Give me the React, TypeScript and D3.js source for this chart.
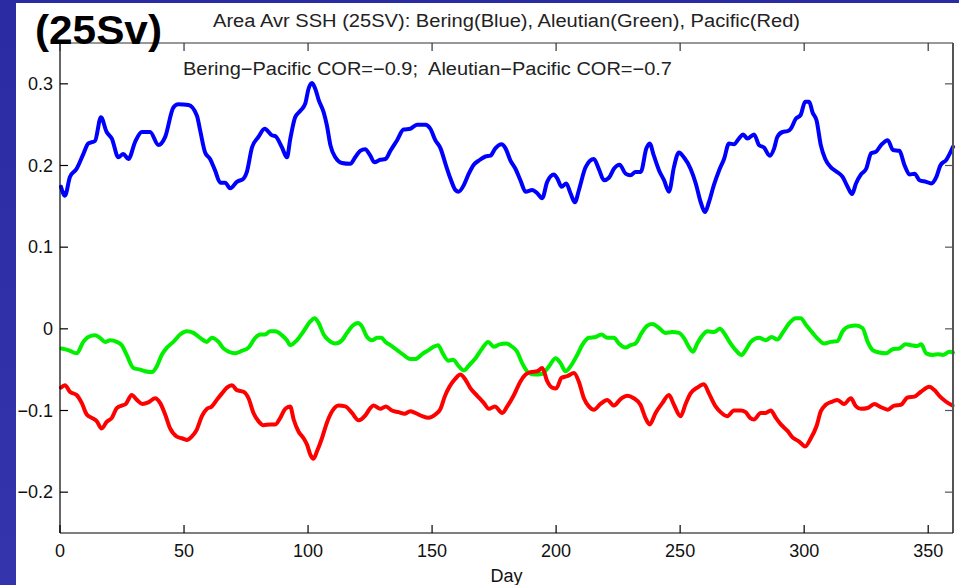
import React, { useRef, useEffect } from "react";
import * as d3 from "d3";

// Day / value pairs
const bering: [number, number][] = [
  [0.4, 0.174], [2, 0.163], [4, 0.186], [6.7, 0.196], [9.4, 0.214], [11.4, 0.227], [14.1, 0.23], [16.5, 0.259],
  [18.8, 0.241], [20.9, 0.233], [23.5, 0.21], [25.5, 0.214], [27.6, 0.208], [30.3, 0.229], [33, 0.241], [36.3, 0.241],
  [39.7, 0.225], [42.4, 0.235], [45.7, 0.271], [47.7, 0.275], [51.8, 0.274], [55.2, 0.261], [56.5, 0.243], [58.5, 0.216],
  [60.5, 0.208], [62.5, 0.194], [64.6, 0.179], [66.6, 0.179], [68.6, 0.172], [71.3, 0.18], [74, 0.184], [75.3, 0.192],
  [77.4, 0.222], [80, 0.235], [82.5, 0.245], [85.4, 0.237], [86.8, 0.236], [89.5, 0.222], [91.5, 0.21], [92.8, 0.232],
  [94.8, 0.259], [96.9, 0.267], [98.9, 0.276], [100.2, 0.294], [101.6, 0.301], [102.9, 0.294], [104.3, 0.28], [106.3, 0.265],
  [107.6, 0.249], [109, 0.225], [111, 0.21], [113.7, 0.203], [117, 0.202], [119, 0.21], [121, 0.218], [123, 0.22],
  [125.1, 0.212], [126.7, 0.204], [129.1, 0.207], [131.2, 0.208], [133.2, 0.218], [135.9, 0.231], [138.5, 0.244], [141.2, 0.245],
  [143.9, 0.25], [147.3, 0.25], [149.3, 0.245], [151.3, 0.231], [153.4, 0.221], [155.4, 0.202], [157.4, 0.184], [159.4, 0.17],
  [160.7, 0.168], [162.8, 0.176], [164.8, 0.19], [166.8, 0.201], [168.8, 0.206], [171.5, 0.211], [173.5, 0.212], [175.5, 0.221],
  [178, 0.226], [179.6, 0.221], [181.6, 0.206], [183.6, 0.196], [185.6, 0.182], [187.7, 0.168], [190.4, 0.17], [192.4, 0.166],
  [194.4, 0.16], [196.4, 0.18], [199.1, 0.189], [200.5, 0.184], [202.2, 0.174], [204.1, 0.178], [205.8, 0.166], [207.6, 0.155],
  [209.2, 0.17], [211.9, 0.198], [215.2, 0.208], [217.2, 0.196], [219.3, 0.182], [221.3, 0.185], [223.3, 0.196], [225.6, 0.201],
  [228, 0.19], [230, 0.188], [232, 0.192], [234.1, 0.192], [236.4, 0.221], [237.7, 0.227], [239.4, 0.212], [241.5, 0.194],
  [243.5, 0.182], [245.5, 0.168], [247.5, 0.198], [249.5, 0.216], [251.5, 0.21], [254.2, 0.196], [256.3, 0.178], [258.3, 0.155],
  [260, 0.143], [261.6, 0.155], [263.6, 0.176], [265.7, 0.194], [267.7, 0.208], [269.7, 0.227], [271.7, 0.226], [273.7, 0.233],
  [275.4, 0.238], [277.1, 0.233], [279.8, 0.238], [281.8, 0.225], [283.8, 0.222], [286.1, 0.212], [287.9, 0.221], [289.2, 0.235],
  [291.3, 0.241], [293.3, 0.242], [294.6, 0.245], [296.6, 0.257], [298.6, 0.262], [300.4, 0.278], [302, 0.278], [303.4, 0.265],
  [305, 0.255], [306.7, 0.225], [308.5, 0.208], [310.7, 0.198], [312.8, 0.193], [315.5, 0.186], [317.5, 0.174], [319.3, 0.165],
  [320.9, 0.178], [322.9, 0.189], [325, 0.196], [327, 0.215], [329, 0.217], [331, 0.225], [333.7, 0.231], [335.8, 0.219],
  [338.4, 0.218], [340.5, 0.2], [342.5, 0.189], [344.5, 0.19], [346.5, 0.182], [349.2, 0.18], [351.2, 0.178], [353.3, 0.186],
  [354.9, 0.2], [357.3, 0.207], [360, 0.223],
];

const aleutian: [number, number][] = [
  [0.7, -0.024], [3.3, -0.026], [6.7, -0.03], [9.4, -0.016], [11.4, -0.01], [14.1, -0.008], [16.1, -0.011], [18.2, -0.016],
  [20.2, -0.014], [22.9, -0.016], [24.9, -0.02], [26.9, -0.032], [29.6, -0.048], [32.3, -0.05], [34.3, -0.052], [37, -0.053],
  [39, -0.046], [41, -0.032], [43.1, -0.023], [45.7, -0.016], [48.4, -0.007], [51.1, -0.003], [53.8, -0.005], [56.5, -0.011],
  [59.2, -0.016], [61.2, -0.011], [63.9, -0.016], [65.9, -0.024], [68, -0.028], [70.6, -0.03], [73.3, -0.027], [76, -0.023],
  [78.7, -0.011], [80.7, -0.007], [82.7, -0.007], [84.7, -0.003], [86.8, -0.003], [89.5, -0.008], [91.5, -0.014], [92.8, -0.02],
  [95.5, -0.014], [98.2, -0.003], [100.9, 0.009], [102.6, 0.013], [104.3, 0.007], [106.3, -0.007], [108.3, -0.014], [111, -0.018],
  [113.7, -0.014], [115.7, -0.005], [117.7, 0.003], [120.1, 0.007], [121.7, 0.003], [123.8, -0.01], [125.8, -0.014], [127.8, -0.011],
  [129.6, -0.011], [131.2, -0.016], [133.2, -0.02], [135.9, -0.026], [138.5, -0.032], [141.2, -0.037], [143.2, -0.037], [146, -0.031],
  [148.6, -0.026], [150.6, -0.022], [152.4, -0.02], [154.3, -0.03], [156.5, -0.039], [158.5, -0.038], [160.8, -0.046], [162.8, -0.051],
  [164.8, -0.045], [167.5, -0.036], [170.2, -0.024], [172.6, -0.016], [174.9, -0.022], [177.2, -0.019], [179.9, -0.018], [182.3, -0.022],
  [184.3, -0.028], [186.3, -0.042], [189, -0.054], [191.7, -0.056], [194.4, -0.055], [197.1, -0.046], [199.8, -0.036], [201.8, -0.042],
  [203.8, -0.052], [205.8, -0.046], [208.5, -0.032], [210.5, -0.02], [213.2, -0.011], [215.9, -0.01], [218.3, -0.007], [220.6, -0.011],
  [223.3, -0.011], [225.3, -0.018], [228, -0.023], [230, -0.02], [232, -0.018], [234.5, -0.005], [236.8, 0.004], [238.8, 0.006],
  [241.5, 0.001], [244.1, -0.005], [246.8, -0.004], [249.5, -0.005], [251.5, -0.011], [253.5, -0.022], [255.2, -0.028], [256.9, -0.018],
  [259, -0.008], [261, -0.003], [263.7, -0.004], [266, 0], [267.7, -0.005], [269.7, -0.015], [272.4, -0.026], [274.8, -0.032],
  [276.4, -0.026], [278.5, -0.016], [281.8, -0.011], [284.5, -0.014], [286.9, -0.01], [289.2, -0.013], [291.3, -0.005], [294, 0.007],
  [296.6, 0.013], [298.6, 0.013], [300.7, 0.005], [303.4, -0.005], [306.1, -0.014], [308.1, -0.018], [310.7, -0.016], [313.4, -0.015],
  [315.5, -0.003], [318.1, 0.003], [320.9, 0.004], [323.5, 0.001], [325.6, -0.016], [327.6, -0.026], [330.3, -0.029], [333, -0.03],
  [335.7, -0.025], [338.4, -0.024], [340.8, -0.019], [343.1, -0.02], [345.4, -0.021], [347.2, -0.019], [349.2, -0.03], [351.9, -0.032],
  [353.9, -0.031], [355.9, -0.032], [358.6, -0.028], [360, -0.029],
];

const pacific: [number, number][] = [
  [0.4, -0.072], [2, -0.069], [4, -0.077], [6.7, -0.081], [8.8, -0.091], [10.8, -0.105], [12.8, -0.109], [14.8, -0.113],
  [16.8, -0.122], [18.8, -0.114], [20.9, -0.109], [22.9, -0.097], [24.9, -0.094], [26.5, -0.092], [28.9, -0.081], [31, -0.087],
  [33.2, -0.092], [35.6, -0.09], [38.3, -0.085], [40.4, -0.091], [42.4, -0.105], [44.4, -0.122], [47.1, -0.132], [49.1, -0.134],
  [51.1, -0.136], [53.1, -0.132], [55.2, -0.123], [57.2, -0.107], [59.2, -0.098], [61.2, -0.095], [63.2, -0.087], [65.3, -0.079],
  [67.3, -0.072], [69.3, -0.069], [71.3, -0.075], [74, -0.077], [76, -0.085], [78, -0.103], [80, -0.113], [82, -0.118],
  [84.7, -0.117], [86.8, -0.117], [88.8, -0.109], [90.8, -0.098], [92.8, -0.095], [94.2, -0.111], [96.2, -0.126], [98.2, -0.134],
  [99.6, -0.142], [100.9, -0.154], [102.2, -0.159], [103.6, -0.15], [105.6, -0.134], [107.6, -0.115], [109.7, -0.101], [112.3, -0.094],
  [115, -0.095], [117.7, -0.103], [120.4, -0.112], [123.1, -0.106], [125.1, -0.097], [126.4, -0.094], [129.1, -0.098], [131.4, -0.095],
  [133.8, -0.1], [136.5, -0.102], [138.9, -0.104], [141.2, -0.101], [143.2, -0.103], [146, -0.107], [148.6, -0.109], [151.3, -0.105],
  [153.4, -0.098], [155.1, -0.083], [157, -0.071], [159.4, -0.061], [161.4, -0.056], [163.4, -0.062], [165.5, -0.073], [168.2, -0.082],
  [170.9, -0.091], [172.9, -0.098], [175.3, -0.095], [178.3, -0.103], [180.3, -0.095], [183, -0.081], [185.5, -0.065], [187.7, -0.056],
  [189.7, -0.053], [192.4, -0.052], [194.4, -0.048], [196.4, -0.064], [198.4, -0.072], [200, -0.073], [202.2, -0.06], [204.5, -0.058],
  [207.2, -0.054], [209.2, -0.065], [211.2, -0.085], [213.2, -0.095], [215.2, -0.099], [217.9, -0.092], [220.6, -0.087], [223.3, -0.094],
  [226, -0.086], [228.7, -0.082], [231.3, -0.085], [234, -0.093], [236, -0.109], [237.7, -0.117], [240.1, -0.103], [242.8, -0.091],
  [245.5, -0.081], [247.5, -0.093], [250.2, -0.107], [252.2, -0.092], [254.2, -0.079], [256.9, -0.072], [259.6, -0.068], [261.6, -0.079],
  [264.3, -0.095], [266.3, -0.102], [269, -0.107], [271.7, -0.1], [274.4, -0.1], [276.4, -0.102], [278.2, -0.109], [279.8, -0.111],
  [282.5, -0.103], [284.5, -0.103], [286.5, -0.1], [288.6, -0.109], [290.6, -0.117], [293.3, -0.125], [295.3, -0.133], [298, -0.138],
  [300.4, -0.144], [302.7, -0.134], [305, -0.119], [306.7, -0.101], [308.7, -0.093], [311.4, -0.089], [313.4, -0.087], [316.1, -0.092],
  [318.8, -0.085], [320.9, -0.095], [322.9, -0.098], [325.6, -0.097], [328.3, -0.092], [331, -0.096], [333.7, -0.099], [336.3, -0.094],
  [339, -0.093], [341.7, -0.084], [344.4, -0.083], [347.1, -0.077], [350.4, -0.071], [352.5, -0.075], [354.5, -0.082], [357.1, -0.089],
  [359.8, -0.094],
];

const xTicks = [0, 50, 100, 150, 200, 250, 300, 350];
const yTicks = [-0.2, -0.1, 0, 0.1, 0.2, 0.3];

const title = "Area Avr SSH (25SV): Bering(Blue), Aleutian(Green), Pacific(Red)";
const corText = "Bering\u2212Pacific COR=\u22120.9;\u00a0 Aleutian\u2212Pacific COR=\u22120.7";
const panelLabel = "(25Sv)";

const W = 959;
const H = 585;
const margin = { top: 43, right: 6, bottom: 52, left: 60 };
const FONT = "'Liberation Sans', Arial, Helvetica, sans-serif";

export default function App() {
  const svgRef = useRef<SVGSVGElement>(null);

  useEffect(() => {
    if (!svgRef.current) return;
    const svg = d3.select(svgRef.current);
    svg.selectAll("*").remove();

    const innerW = W - margin.left - margin.right;
    const innerH = H - margin.top - margin.bottom;

    const x = d3.scaleLinear().domain([0, 360]).range([0, innerW]);
    const y = d3.scaleLinear().domain([-0.25, 0.35]).range([innerH, 0]);

    // slide background
    const defs = svg.append("defs");
    const grad = defs.append("linearGradient").attr("id", "slideBg").attr("x1", 0).attr("y1", 0).attr("x2", 0).attr("y2", 1);
    grad.append("stop").attr("offset", "0%").attr("stop-color", "#2b2ba3");
    grad.append("stop").attr("offset", "100%").attr("stop-color", "#3434ad");
    svg.append("rect").attr("width", W).attr("height", H).attr("fill", "url(#slideBg)");
    svg.append("rect").attr("x", 16).attr("y", 3).attr("width", W - 16).attr("height", H - 3).attr("fill", "#ffffff");

    const g = svg.append("g").attr("transform", `translate(${margin.left},${margin.top})`);

    // lines
    const line = d3
      .line<[number, number]>()
      .x((d) => x(d[0]))
      .y((d) => y(d[1]))
      .curve(d3.curveMonotoneX);

    const series = [
      { data: bering, color: "#0000ff" },
      { data: aleutian, color: "#00f000" },
      { data: pacific, color: "#ff0000" },
    ];
    series.forEach((s) => {
      g.append("path")
        .attr("d", line(s.data) || "")
        .attr("fill", "none")
        .attr("stroke", s.color)
        .attr("stroke-width", 4)
        .attr("stroke-linejoin", "round")
        .attr("stroke-linecap", "round");
    });

    // box with mirrored ticks
    const tick = 8;
    const frame = g.append("g").attr("fill", "none");
    frame.append("line").attr("x1", 0).attr("x2", innerW).attr("y1", 0).attr("y2", 0).attr("stroke", "#333").attr("stroke-width", 1.2);
    frame.append("line").attr("x1", innerW).attr("x2", innerW).attr("y1", 0).attr("y2", innerH).attr("stroke", "#555").attr("stroke-width", 2);
    frame.append("line").attr("x1", 0).attr("x2", innerW).attr("y1", innerH).attr("y2", innerH).attr("stroke", "#000").attr("stroke-width", 1.2);
    frame.append("line").attr("x1", 0).attr("x2", 0).attr("y1", 0).attr("y2", innerH).attr("stroke", "#000").attr("stroke-width", 1.2);

    xTicks.forEach((t) => {
      frame.append("line").attr("x1", x(t)).attr("x2", x(t)).attr("y1", innerH).attr("y2", innerH - tick).attr("stroke", "#000").attr("stroke-width", 1.2);
      frame.append("line").attr("x1", x(t)).attr("x2", x(t)).attr("y1", 0).attr("y2", tick).attr("stroke", "#333").attr("stroke-width", 1.2);
    });
    yTicks.forEach((t) => {
      frame.append("line").attr("x1", 0).attr("x2", tick).attr("y1", y(t)).attr("y2", y(t)).attr("stroke", "#000").attr("stroke-width", 1.2);
      frame.append("line").attr("x1", innerW).attr("x2", innerW - tick).attr("y1", y(t)).attr("y2", y(t)).attr("stroke", "#555").attr("stroke-width", 1.2);
    });

    // tick labels
    const fmtY = (v: number) => (v === 0 ? "0" : v < 0 ? "\u2212" + d3.format(".1f")(-v) : d3.format(".1f")(v));
    g.selectAll(".xl")
      .data(xTicks)
      .enter()
      .append("text")
      .attr("x", (d) => x(d))
      .attr("y", innerH + 24)
      .attr("text-anchor", "middle")
      .attr("font-family", FONT)
      .attr("font-size", 18)
      .attr("fill", "#111")
      .text((d) => String(d));
    g.selectAll(".yl")
      .data(yTicks)
      .enter()
      .append("text")
      .attr("x", -7)
      .attr("y", (d) => y(d))
      .attr("dy", "0.35em")
      .attr("text-anchor", "end")
      .attr("font-family", FONT)
      .attr("font-size", 18)
      .attr("fill", "#111")
      .text((d) => fmtY(d));

    g.append("text")
      .attr("x", innerW / 2)
      .attr("y", innerH + 49)
      .attr("text-anchor", "middle")
      .attr("font-family", FONT)
      .attr("font-size", 18)
      .attr("fill", "#111")
      .text("Day");

    // titles (the slide stretches them a little horizontally)
    svg.append("text")
      .attr("x", 213)
      .attr("y", 27)
      .attr("font-family", FONT)
      .attr("font-size", 18)
      .attr("textLength", 587)
      .attr("lengthAdjust", "spacingAndGlyphs")
      .attr("fill", "#222")
      .text(title);

    svg.append("text")
      .attr("x", 183)
      .attr("y", 75)
      .attr("font-family", FONT)
      .attr("font-size", 18)
      .attr("textLength", 489)
      .attr("lengthAdjust", "spacingAndGlyphs")
      .attr("fill", "#222")
      .text(corText);

    svg.append("text")
      .attr("x", 35)
      .attr("y", 44)
      .attr("font-family", FONT)
      .attr("font-size", 40)
      .attr("textLength", 127)
      .attr("lengthAdjust", "spacingAndGlyphs")
      .attr("font-weight", "bold")
      .attr("fill", "#000")
      .text(panelLabel);
  }, []);

  return (
    <div style={{ position: "absolute", left: 0, top: 0, width: W, height: H, overflow: "hidden" }}>
      <svg ref={svgRef} width={W} height={H} style={{ display: "block" }} />
    </div>
  );
}
